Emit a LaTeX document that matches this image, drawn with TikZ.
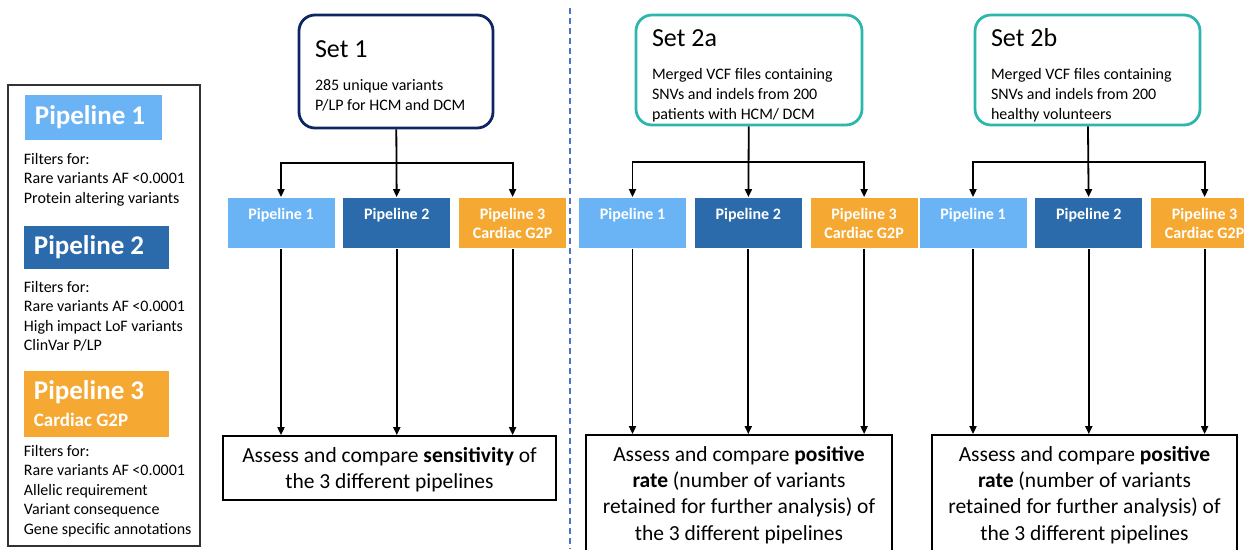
\documentclass[tikz,border=0pt]{standalone}
\usepackage{fontspec}
\setmainfont{Carlito}
\usetikzlibrary{arrows.meta,positioning,calc}

\definecolor{pipeone}{HTML}{6AB4F6}
\definecolor{pipetwo}{HTML}{2B6BAB}
\definecolor{pipethree}{HTML}{F5A832}
\definecolor{setnavy}{HTML}{0E2663}
\definecolor{setteal}{HTML}{2DB6AE}
\definecolor{divblue}{HTML}{4A74C9}

\newcommand{\settitle}[2]{\rule{0pt}{#2pt}{\fontsize{26}{26}\selectfont #1}}

\begin{document}
\begin{tikzpicture}[x=1pt,y=-1pt,>={Triangle[length=8pt,width=7pt]},line width=1.8pt,node distance=7pt]
  \tikzstyle{setbox}=[draw,line width=2.8pt,rounded corners=16pt,align=flush left,inner sep=0pt,font=\fontsize{16}{20}\selectfont]
  \tikzstyle{pipe}=[inner sep=0pt,minimum width=107pt,minimum height=50pt,text=white,align=center,font=\bfseries\fontsize{16}{19}\selectfont]
  \tikzstyle{assess}=[draw,line width=1.8pt,inner sep=0pt,align=flush center,font=\fontsize{21.5}{26.2}\selectfont]
  \tikzstyle{legpipe}=[anchor=north west,inner xsep=10pt,inner ysep=0pt,text=white,align=flush left,font=\bfseries\fontsize{27}{27}\selectfont]
  \tikzstyle{filters}=[anchor=north west,inner sep=0pt,align=left,font=\fontsize{16}{19.6}\selectfont]
  \useasboundingbox (0,0) rectangle (1244,549);

  % legend
  \node[draw=black!80,line width=1.3pt,minimum width=192pt,minimum height=461pt] (legend) at (104,315.5) {};
  \node[legpipe,fill=pipeone,text width=117pt,minimum height=45pt] (lp1) at (24,94) {Pipeline 1};
  \node[filters] (lf1) at (23,152) {Filters for:\\Rare variants AF <0.0001\\Protein altering variants};
  \node[legpipe,fill=pipetwo,text width=125pt,minimum height=43pt] (lp2) at (23,225) {Pipeline 2};
  \node[filters] (lf2) at (23,280) {Filters for:\\Rare variants AF <0.0001\\High impact LoF variants\\ClinVar P/LP};
  \node[legpipe,fill=pipethree,text width=125pt,minimum height=66pt] (lp3) at (23,370) {Pipeline 3\\{\fontsize{19}{27}\selectfont Cardiac G2P}};
  \node[filters] (lf3) at (23,444) {Filters for:\\Rare variants AF <0.0001\\Allelic requirement\\Variant consequence\\Gene specific annotations};

  % divider
  \coordinate (divtop) at (570,8);
  \coordinate (divbot) at (570,549);
  \draw[divblue,line width=1.3pt,dash pattern=on 6pt off 4pt] (divtop) -- (divbot);

  % set 1
  \node[setbox,draw=setnavy,minimum width=194pt,minimum height=113pt,text width=162pt] (s1) at (396,71.5)
    {\settitle{Set 1}{25}\\[13pt]285 unique variants\\P/LP for HCM and DCM};
  \node[pipe,fill=pipeone] (s1p1) at (281,223) {Pipeline 1\\\phantom{G}};
  \node[pipe,fill=pipetwo,right=of s1p1] (s1p2) {Pipeline 2\\\phantom{G}};
  \node[pipe,fill=pipethree,right=of s1p2] (s1p3) {Pipeline 3\\Cardiac G2P};
  \node[assess,minimum width=333pt,minimum height=64pt,text width=325pt] (a1) at (389.5,468)
    {\rule{0pt}{19pt}Assess and compare \textbf{sensitivity} of\\the 3 different pipelines};

  % set 2a
  \node[setbox,draw=setteal,minimum width=226pt,minimum height=110pt,text width=194pt] (s2a) at (749,70)
    {\settitle{Set 2a}{28}\\[13pt]Merged VCF files containing\\SNVs and indels from 200\\patients with HCM/ DCM};
  \node[pipe,fill=pipeone] (s2ap1) at (632.5,223) {Pipeline 1\\\phantom{G}};
  \node[pipe,fill=pipetwo,right=of s2ap1] (s2ap2) {Pipeline 2\\\phantom{G}};
  \node[pipe,fill=pipethree,right=of s2ap2] (s2ap3) {Pipeline 3\\Cardiac G2P};
  \node[assess,minimum width=306pt,minimum height=120pt,text width=300pt] (a2a) at (739,495)
    {Assess and compare \textbf{positive}\\\textbf{rate} (number of variants\\retained for further analysis) of\\the 3 different pipelines};

  % set 2b
  \node[setbox,draw=setteal,minimum width=225pt,minimum height=110pt,text width=193pt] (s2b) at (1087.5,70)
    {\settitle{Set 2b}{28}\\[13pt]Merged VCF files containing\\SNVs and indels from 200\\healthy volunteers};
  \node[pipe,fill=pipeone] (s2bp1) at (973,223) {Pipeline 1\\\phantom{G}};
  \node[pipe,fill=pipetwo,right=of s2bp1] (s2bp2) {Pipeline 2\\\phantom{G}};
  \node[pipe,fill=pipethree,right=of s2bp2] (s2bp3) {Pipeline 3\\Cardiac G2P};
  \node[assess,minimum width=305pt,minimum height=120pt,text width=299pt] (a2b) at (1084.5,495)
    {Assess and compare \textbf{positive}\\\textbf{rate} (number of variants\\retained for further analysis) of\\the 3 different pipelines};

  % connectors
  \foreach \s/\a in {s1/a1,s2a/a2a,s2b/a2b}{
    \coordinate (\s j) at ($(\s.south)!0.5!(\s p2.north)$);
    \draw[->] (\s) -- (\s p2);
    \draw[->] (\s j) -| (\s p1);
    \draw[->] (\s j) -| (\s p3);
    \foreach \p in {p1,p2,p3}
      \draw[->] (\s\p) -- (\s\p |- \a.north);
  }
\end{tikzpicture}
\end{document}
